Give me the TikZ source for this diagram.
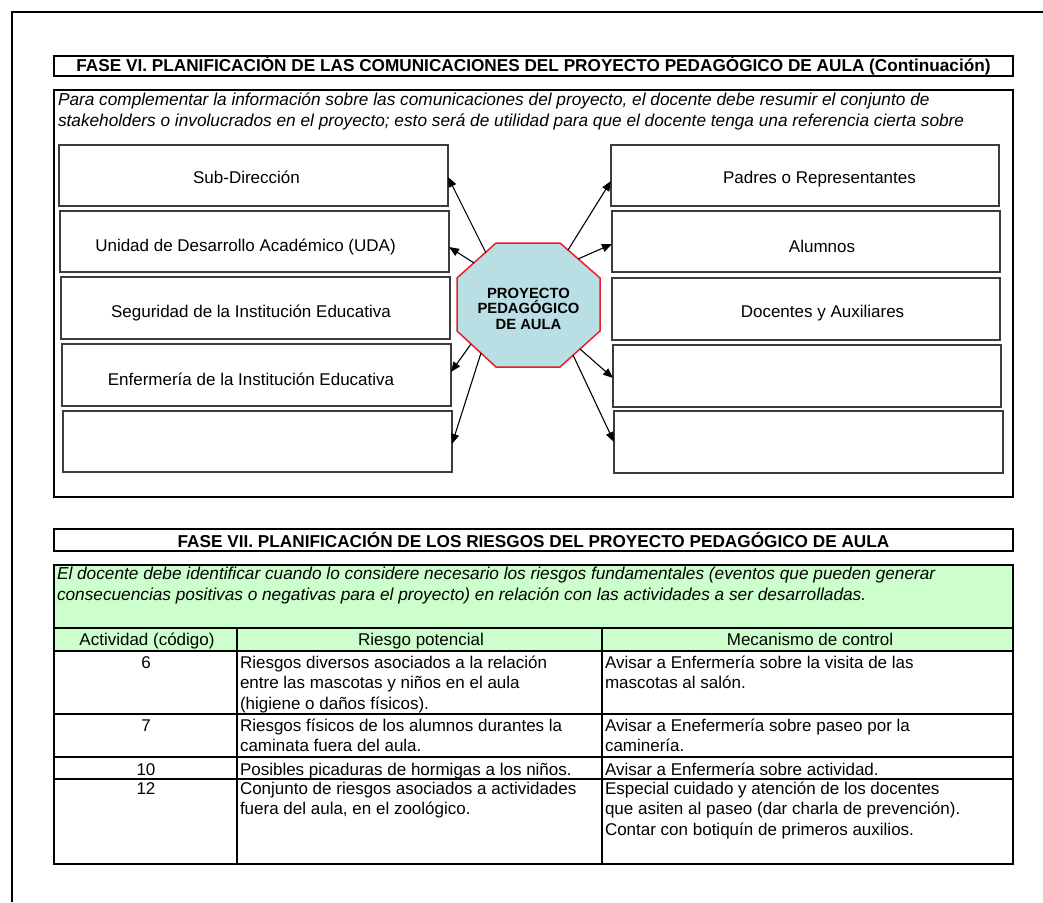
\documentclass[tikz,border=0pt]{standalone}
\usepackage{fontspec}
\setmainfont{Liberation Sans}
\usetikzlibrary{arrows.meta,calc}
\definecolor{octfill}{RGB}{185,222,228}
\definecolor{octline}{RGB}{235,30,35}
\definecolor{grn}{RGB}{204,255,204}
\definecolor{boxline}{RGB}{60,60,60}
\begin{document}
\begin{tikzpicture}[x=1pt,y=-1pt,
  every node/.style={inner sep=0pt, outer sep=0pt},
  txt/.style={font=\fontsize{17}{20.5}\selectfont},
  hdr/.style={draw=black, line width=2pt, font=\bfseries\fontsize{17.2}{20}\selectfont, minimum width=959pt},
  itx/.style={font=\itshape\fontsize{17.25}{20.5}\selectfont, align=left, anchor=base west},
  stake/.style={draw=boxline, line width=1.3pt, fill=white, minimum height=61pt},
  lbl/.style={txt, anchor=base},
  octtxt/.style={font=\bfseries\fontsize{14.8}{15.5}\selectfont, align=center},
  frame/.style={draw=black, line width=2pt},
  link/.style={-{Triangle[length=10pt,width=8pt]}, line width=1.1pt},
  cellL/.style={txt, align=left, anchor=base west},
  cellC/.style={txt, anchor=base}]
\useasboundingbox (0,0) rectangle (1043,902);
% outer frame
\draw[line width=2.5pt] (12,902) -- (12,12) -- (1043,12);

% ---------- FASE VI ----------
\node[hdr, minimum height=20pt] (h6) at (533.5,65.5) {FASE VI. PLANIFICACIÓN DE LAS COMUNICACIONES DEL PROYECTO PEDAGÓGICO DE AULA (Continuación)};
\draw[frame] (54,90) rectangle (1013,497);
\node[itx] (i6) at (58,126) {Para complementar la información sobre las comunicaciones del proyecto, el docente debe resumir el conjunto de\\stakeholders o involucrados en el proyecto; esto será de utilidad para que el docente tenga una referencia cierta sobre};

% left boxes
\node[stake, minimum width=389pt] (lb1) at (253.5,175.5) {};
\node[stake, minimum width=389pt] (lb2) at (254.5,241.5) {};
\node[stake, minimum width=389pt, minimum height=62pt] (lb3) at (255.5,308) {};
\node[stake, minimum width=389pt, minimum height=62pt] (lb4) at (256.5,375) {};
\node[stake, minimum width=389pt] (lb5) at (257.5,441.5) {};
% right boxes
\node[stake, minimum width=388pt] (rb1) at (805,175.5) {};
\node[stake, minimum width=388pt] (rb2) at (806,241.5) {};
\node[stake, minimum width=388pt, minimum height=62pt] (rb3) at (806,309) {};
\node[stake, minimum width=388pt, minimum height=62pt] (rb4) at (807,376) {};
\node[stake, minimum width=389pt, minimum height=62pt] (rb5) at (808.5,442) {};

\node[lbl] (tl1) at (246.5,183) {Sub-Dirección};
\node[lbl] (tl2) at (245.5,251) {Unidad de Desarrollo Académico (UDA)};
\node[lbl] (tl3) at (251,317) {Seguridad de la Institución Educativa};
\node[lbl] (tl4) at (251,385) {Enfermería de la Institución Educativa};
\node[lbl] (tr1) at (819.5,183) {Padres o Representantes};
\node[lbl] (tr2) at (822,252) {Alumnos};
\node[lbl] (tr3) at (822.5,317) {Docentes y Auxiliares};

% octagon
\filldraw[fill=octfill, draw=octline, line width=1.5pt]
  (496,243) -- (560,243) -- (600,278) -- (600,331) -- (560,367) -- (496,367) -- (457,331) -- (457,278) -- cycle;
\node[octtxt] (oct) at (528.5,308.5) {PROYECTO\\PEDAGÓGICO\\DE AULA};

\coordinate (sL1) at (486,253);
\coordinate (sL2) at (474,263);
\coordinate (sL3) at (471,344);
\coordinate (sL4) at (481,353);
\coordinate (sR1) at (568,250);
\coordinate (sR2) at (578,259);
\coordinate (sR3) at (580,349);
\coordinate (sR4) at (573,355);

\draw[link] (sL1) -- ($(lb1.east)+(0,1.5)$);
\draw[link] (sL2) -- ($(lb2.east)+(0,5.5)$);
\draw[link] (sL3) -- ($(lb4.east)+(0,-3)$);
\draw[link] (sL4) -- ($(lb5.east)+(0,2.5)$);
\draw[link] (sR1) -- ($(rb1.west)+(0,5.5)$);
\draw[link] (sR2) -- ($(rb2.west)+(0,2.5)$);
\draw[link] (sR3) -- ($(rb4.west)+(0,2)$);
\draw[link] (sR4) -- ($(rb5.west)+(0,0)$);

% ---------- FASE VII ----------
\node[hdr, minimum height=22pt] (h7) at (533.5,539.5) {FASE VII. PLANIFICACIÓN DE LOS RIESGOS DEL PROYECTO PEDAGÓGICO DE AULA};
\draw[frame, fill=grn] (54,565) rectangle (1013,628);
\node[itx] (i7) at (57,600) {El docente debe identificar cuando lo considere necesario los riesgos fundamentales (eventos que pueden generar\\consecuencias positivas o negativas para el proyecto) en relación con las actividades a ser desarrolladas.};
\draw[frame, fill=grn] (54,628) rectangle (1013,651);
\draw[frame] (54,651) rectangle (1013,864);
\draw[frame] (54,714) -- (1013,714);
\draw[frame] (54,757) -- (1013,757);
\draw[frame] (54,779) -- (1013,779);
\draw[frame] (237,628) -- (237,864);
\draw[frame] (602,628) -- (602,864);

\node[cellC] (th1) at (147,645) {Actividad (código)};
\node[cellC] (th2) at (421,645) {Riesgo potencial};
\node[cellC] (th3) at (810,645) {Mecanismo de control};

\node[cellC] (a1) at (146,668) {6};
\node[cellL] (b1) at (240,709) {Riesgos diversos asociados a la relación\\entre las mascotas y niños en el aula\\(higiene o daños físicos).};
\node[cellL] (c1) at (605,688.5) {Avisar a Enfermería sobre la visita de las\\mascotas al salón.};

\node[cellC] (a2) at (146,731) {7};
\node[cellL] (b2) at (240,751.5) {Riesgos físicos de los alumnos durantes la\\caminata fuera del aula.};
\node[cellL] (c2) at (605,751.5) {Avisar a Enefermería sobre paseo por la\\caminería.};

\node[cellC] (a3) at (146,775) {10};
\node[cellL] (b3) at (240,775) {Posibles picaduras de hormigas a los niños.};
\node[cellL] (c3) at (605,775) {Avisar a Enfermería sobre actividad.};

\node[cellC] (a4) at (146,794) {12};
\node[cellL] (b4) at (240,814.5) {Conjunto de riesgos asociados a actividades\\fuera del aula, en el zoológico.};
\node[cellL] (c4) at (605,835) {Especial cuidado y atención de los docentes\\que asiten al paseo (dar charla de prevención).\\Contar con botiquín de primeros auxilios.};
\end{tikzpicture}
\end{document}
